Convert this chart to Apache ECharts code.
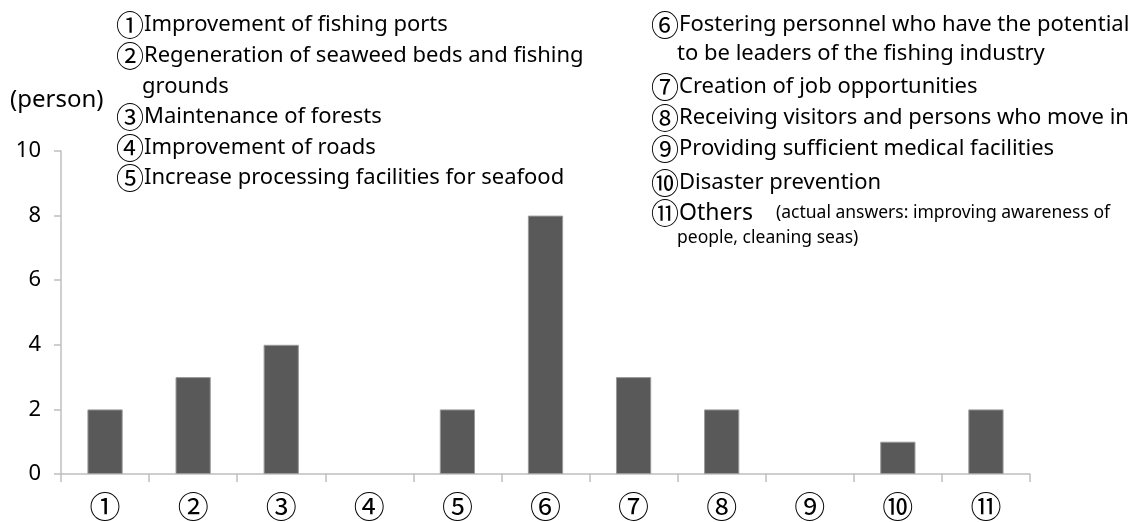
<!DOCTYPE html>
<html>
<head>
<meta charset="utf-8">
<script src="https://cdn.jsdelivr.net/npm/echarts@6/dist/echarts.min.js"></script>
<style>
	html, body { margin: 0; padding: 0; background: #fff; }
	#chart { width: 1137px; height: 522px; }
</style>
</head>
<body>
<div id="chart"></div>
<script>
var categories = ['①', '②', '③', '④', '⑤', '⑥', '⑦', '⑧', '⑨', '⑩', '⑪'];
var persons = [2, 3, 4, 0, 2, 8, 3, 2, 0, 1, 2];
var yTicks = [0, 2, 4, 6, 8, 10];
var notesLeft = [
	['①', 'Improvement of fishing ports'],
	['②', 'Regeneration of seaweed beds and fishing'],
	['', 'grounds'],
	['③', 'Maintenance of forests'],
	['④', 'Improvement of roads'],
	['⑤', 'Increase processing facilities for seafood']
];
var notesRight = [
	['⑥', 'Fostering personnel who have the potential'],
	['', 'to be leaders of the fishing industry'],
	['⑦', 'Creation of job opportunities'],
	['⑧', 'Receiving visitors and persons who move in'],
	['⑨', 'Providing sufficient medical facilities'],
	['⑩', 'Disaster prevention'],
	['⑪', 'Others', '(actual answers: improving awareness of'],
	['', '', 'people, cleaning seas)']
];

var FONT = '"Noto Sans", sans-serif';
var CJK = '"Noto Sans CJK JP", sans-serif';

// one text element per line, circled number in the CJK font
function noteBlock(lines, x, centers) {
	var items = [];
	for (var i = 0; i < lines.length; i++) {
		var l = lines[i];
		var txt = l[0] ? '{c|' + l[0] + '}' : '{pad|}';
		if (l[1]) txt += (l[2] ? '{w|' : '{t|') + l[1] + '}';
		if (l[2]) txt += '{s|' + l[2] + '}';
		items.push({
			type: 'text',
			left: x,
			top: centers[i] - 15 + (l[0] ? 3 : 6),
			style: {
				text: txt,
				fill: '#000',
				rich: {
					c: { fontSize: 28, fontFamily: CJK, fill: '#000', height: 30 },
					pad: { width: 26, height: 30 },
					t: { fontSize: 22, fontFamily: FONT, fill: '#000', height: 30 },
					w: { fontSize: 23, fontFamily: FONT, fill: '#000', height: 30, width: 97 },
					s: { fontSize: 17.5, fontFamily: FONT, fill: '#000', height: 30 }
				}
			}
		});
	}
	return items;
}

var myChart = echarts.init(document.getElementById('chart'));
var option = {
	animation: false,
	grid: {
		left: 61,
		right: 107,
		top: 151,
		bottom: 46
	},
	xAxis: {
		type: 'category',
		data: categories,
		axisLine: { lineStyle: { color: '#bfbfbf', width: 1.5 } },
		axisTick: { show: true, length: 8, lineStyle: { color: '#bfbfbf', width: 1.5 } },
		axisLabel: { color: '#000', fontSize: 31, fontFamily: CJK, margin: 17 }
	},
	yAxis: {
		type: 'value',
		min: 0,
		max: 10,
		interval: 2,
		axisLine: { show: true, lineStyle: { color: '#bfbfbf', width: 1.5 } },
		axisTick: { show: true, length: 7, lineStyle: { color: '#bfbfbf', width: 1.5 } },
		splitLine: { show: false },
		axisLabel: {
			color: '#000', fontSize: 22, fontFamily: FONT, margin: 20,
			formatter: function(v) { return yTicks.indexOf(v) >= 0 ? String(v) : ''; }
		}
	},
	series: [{
		type: 'bar',
		data: persons.map(function(v) {
			return { value: v, itemStyle: v === 0 ? { borderWidth: 0 } : {} };
		}),
		barWidth: '40%',
		itemStyle: { color: '#595959', borderColor: '#9a9a9a', borderWidth: 1 }
	}],
	graphic: [{
		type: 'text',
		left: 10,
		top: 88,
		style: { text: '(person)', fill: '#000', font: '24px ' + FONT }
	}].concat(
		noteBlock(notesLeft, 116, [23, 54, 85, 115, 146, 176]),
		noteBlock(notesRight, 651, [23, 52, 85, 116, 147, 181, 211, 238])
	)
};
myChart.setOption(option);
</script>
</body>
</html>
